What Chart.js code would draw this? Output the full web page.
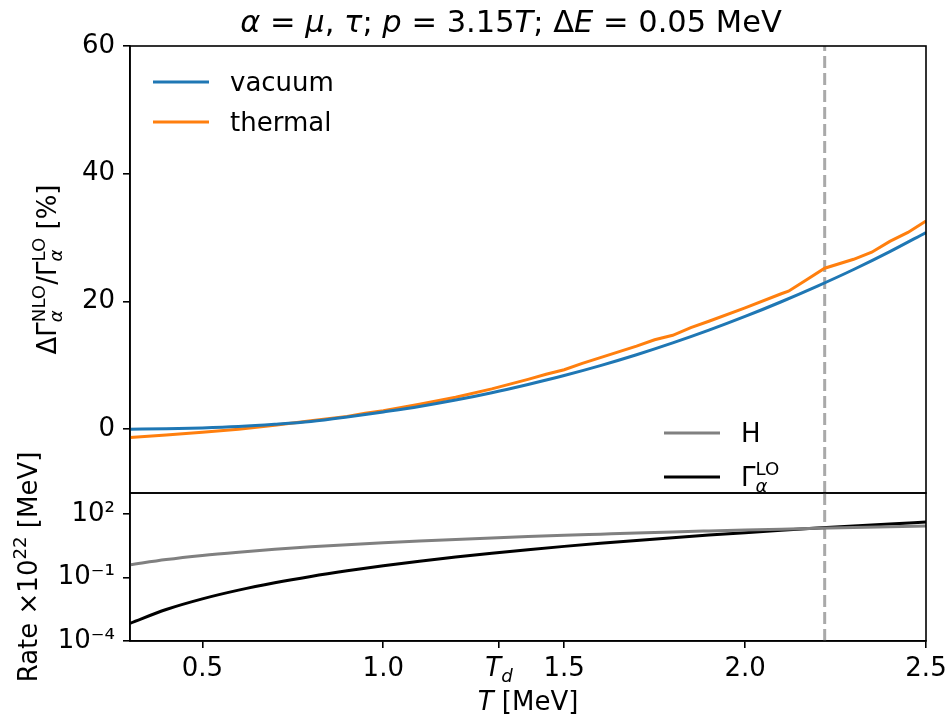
<!DOCTYPE html>
<html>
<head>
<meta charset="utf-8">
<script src="https://cdn.jsdelivr.net/npm/chart.js@4.4.1/dist/chart.umd.min.js"></script>
<style>
  body { margin: 0; background: #fff; }
  #page { position: relative; width: 952px; height: 724px; overflow: hidden; background: #fff; }
  canvas { position: absolute; left: 0; top: 0; }
</style>
</head>
<body>
<div id="page">
  <canvas id="ratioChart" width="952" height="724"></canvas>
  <canvas id="rateChart" width="952" height="724"></canvas>
</div>
<script>
// temperature grid [MeV]
const tempGrid = [0.3, 0.4, 0.5, 0.6, 0.7, 0.8, 0.9, 1.0, 1.1, 1.2, 1.3, 1.4, 1.5,
  1.6, 1.7, 1.8, 1.9, 2.0, 2.1, 2.2, 2.3, 2.4, 2.5];
// top panel: NLO correction in %
const vacuumPct = [0.0, 0.05, 0.18, 0.4, 0.75, 1.2, 1.9, 2.7, 3.55, 4.55, 5.7, 7.0, 8.4,
  9.95, 11.65, 13.5, 15.5, 17.65, 19.95, 22.4, 25.0, 27.8, 30.8];
const thermalT = [0.3, 0.4, 0.5, 0.6, 0.7, 0.8, 0.9, 0.95, 1.0, 1.1, 1.2, 1.3, 1.4, 1.45,
  1.5, 1.55, 1.6, 1.7, 1.75, 1.8, 1.85, 1.9, 2.0, 2.1, 2.12, 2.17, 2.22, 2.3, 2.35, 2.4, 2.45, 2.5];
const thermalPct = [-1.3, -0.9, -0.5, 0.0, 0.6, 1.3, 2.0, 2.5, 2.9, 3.9, 5.0, 6.3, 7.8, 8.6,
  9.3, 10.3, 11.2, 13.0, 14.0, 14.7, 15.9, 16.9, 19.0, 21.2, 21.6, 23.4, 25.2, 26.6, 27.7, 29.4, 30.8, 32.6];
// bottom panel: rates x 1e22 [MeV]
const hubbleRate = [0.399, 0.709, 1.11, 1.59, 2.17, 2.84, 3.59, 4.43, 5.36, 6.38, 7.49, 8.68, 9.97,
  11.3, 12.8, 14.4, 16.0, 17.7, 19.5, 21.4, 23.4, 25.5, 27.7];
const gammaLO = [0.00069, 0.00309, 0.00984, 0.0254, 0.0567, 0.1135, 0.209, 0.362, 0.594, 0.935, 1.42, 2.08, 2.99,
  4.17, 5.71, 7.71, 10.2, 13.3, 17.2, 21.9, 27.6, 34.4, 42.5];

const xTicks = [0.5, 1.0, 1.32, 1.5, 2.0, 2.5];
const xTickLabels = ["0.5", "1.0", "", "1.5", "2.0", "2.5"];
const ratioTicks = [0, 20, 40, 60];
const rateTicks = [1e-4, 1e-1, 1e2];
const rateTickLabels = ["10\u207B\u2074", "10\u207B\u00B9", "10\u00B2"];
const T_D = 1.32;
const T_MARK = 2.22;

const FONT = '"DejaVu Sans", sans-serif';
const FS = 26;
// panel edges on the page
const LEFT = 130, RIGHT = 926, TOP = 46, MID = 493, BOTTOM = 641;

function pts(xs, ys) {
  return xs.map((x, i) => ({ x: x, y: ys[i] }));
}

function fnt(size, it) {
  return (it ? "italic " : "") + size + "px " + FONT;
}

// parts: {t, it, sup, sub, subIt}
function richWidth(ctx, parts, size) {
  let w = 0;
  parts.forEach((p) => {
    ctx.font = fnt(size, p.it);
    w += ctx.measureText(p.t).width;
    let sw = 0;
    ctx.font = fnt(size * 0.7, false);
    if (p.sup) sw = Math.max(sw, ctx.measureText(p.sup).width);
    ctx.font = fnt(size * 0.7, p.subIt);
    if (p.sub) sw = Math.max(sw, ctx.measureText(p.sub).width);
    w += sw;
  });
  return w;
}

function drawRich(ctx, parts, x, y, size) {
  ctx.save();
  ctx.fillStyle = "#000";
  ctx.textBaseline = "alphabetic";
  ctx.textAlign = "left";
  let cx = x;
  parts.forEach((p) => {
    ctx.font = fnt(size, p.it);
    ctx.fillText(p.t, cx, y);
    cx += ctx.measureText(p.t).width;
    let sw = 0;
    if (p.sup) {
      ctx.font = fnt(size * 0.7, false);
      ctx.fillText(p.sup, cx, y - size * 0.42);
      sw = Math.max(sw, ctx.measureText(p.sup).width);
    }
    if (p.sub) {
      ctx.font = fnt(size * 0.7, p.subIt);
      ctx.fillText(p.sub, cx, y + size * 0.22);
      sw = Math.max(sw, ctx.measureText(p.sub).width);
    }
    cx += sw;
  });
  ctx.restore();
}

function drawRichCentered(ctx, parts, cx, y, size) {
  drawRich(ctx, parts, cx - richWidth(ctx, parts, size) / 2, y, size);
}

function drawRotated(ctx, parts, x, cy, size) {
  ctx.save();
  ctx.translate(x, cy);
  ctx.rotate(-Math.PI / 2);
  drawRichCentered(ctx, parts, 0, 0, size);
  ctx.restore();
}

function legendLine(ctx, x, y, color, label) {
  ctx.save();
  ctx.strokeStyle = color;
  ctx.lineWidth = 3;
  ctx.beginPath();
  ctx.moveTo(x, y);
  ctx.lineTo(x + 56, y);
  ctx.stroke();
  ctx.restore();
  drawRich(ctx, label, x + 77, y + 9, FS);
}

const framePlugin = {
  id: "frame",
  afterDraw(chart) {
    const a = chart.chartArea;
    const ctx = chart.ctx;
    ctx.save();
    ctx.strokeStyle = "#000";
    ctx.lineWidth = 1.6;
    ctx.strokeRect(a.left, a.top, a.right - a.left, a.bottom - a.top);
    ctx.restore();
  },
};

const ratioText = {
  id: "ratioText",
  afterDraw(chart) {
    const ctx = chart.ctx;
    const a = chart.chartArea;
    drawRichCentered(ctx, [
      { t: "\u03B1", it: true }, { t: " = " }, { t: "\u03BC", it: true }, { t: ", " },
      { t: "\u03C4", it: true }, { t: "; " }, { t: "p", it: true }, { t: " = 3.15" },
      { t: "T", it: true }, { t: "; \u0394" }, { t: "E", it: true }, { t: " = 0.05 MeV" },
    ], 511, 32, 30.5);
    drawRotated(ctx, [
      { t: "\u0394\u0393", sup: "NLO", sub: "\u03B1", subIt: true },
      { t: "/\u0393", sup: "LO", sub: "\u03B1", subIt: true },
      { t: " [%]" },
    ], 56, (a.top + a.bottom) / 2, FS);
    legendLine(ctx, 153, 82, "#1f77b4", [{ t: "vacuum" }]);
    legendLine(ctx, 153, 122, "#ff7f0e", [{ t: "thermal" }]);
    legendLine(ctx, 664, 433, "#808080", [{ t: "H" }]);
    legendLine(ctx, 664, 477, "#000000", [{ t: "\u0393", sup: "LO", sub: "\u03B1", subIt: true }]);
  },
};

const rateText = {
  id: "rateText",
  afterDraw(chart) {
    const ctx = chart.ctx;
    const a = chart.chartArea;
    const xs = chart.scales.x;
    drawRotated(ctx, [
      { t: "Rate \u00D710", sup: "22" }, { t: " [MeV]" },
    ], 37, (a.top + a.bottom) / 2, FS);
    // T_d tick label
    drawRichCentered(ctx, [{ t: "T", it: true, sub: "d", subIt: true }],
      xs.getPixelForValue(T_D), a.bottom + 35, FS);
    drawRichCentered(ctx, [{ t: "T", it: true }, { t: " [MeV]" }], (a.left + a.right) / 2, a.bottom + 69, FS);
  },
};

const axisFont = { family: FONT, size: FS };
const tickGrid = { drawOnChartArea: false, tickLength: 7, color: "#000", lineWidth: 1.6 };

function noPad(s) {
  s.paddingTop = 0; s.paddingBottom = 0; s.paddingLeft = 0; s.paddingRight = 0;
}

new Chart(document.getElementById("ratioChart"), {
  type: "line",
  data: {
    datasets: [
      { label: "vacuum", data: pts(tempGrid, vacuumPct), borderColor: "#1f77b4", borderWidth: 3, cubicInterpolationMode: "monotone" },
      { label: "thermal", data: pts(thermalT, thermalPct), borderColor: "#ff7f0e", borderWidth: 3, tension: 0 },
      { label: "T mark", data: [{ x: T_MARK, y: -10 }, { x: T_MARK, y: 60 }], borderColor: "#a9a9a9", borderWidth: 3, borderDash: [12, 5] },
    ],
  },
  options: {
    responsive: false,
    animation: false,
    events: [],
    layout: { padding: { top: TOP, left: 0, right: 952 - RIGHT, bottom: 724 - MID } },
    elements: { point: { radius: 0 } },
    plugins: { legend: { display: false }, tooltip: { enabled: false } },
    scales: {
      x: { type: "linear", min: 0.3, max: 2.5, display: false },
      y: {
        min: -10, max: 60,
        afterBuildTicks: (s) => { s.ticks = ratioTicks.map((v) => ({ value: v })); },
        afterFit: (s) => { s.width = LEFT; noPad(s); },
        ticks: { color: "#000", font: axisFont, padding: 8 },
        grid: tickGrid,
        border: { color: "#000", width: 1.6 },
      },
    },
  },
  plugins: [framePlugin, ratioText],
});

new Chart(document.getElementById("rateChart"), {
  type: "line",
  data: {
    datasets: [
      { label: "H", data: pts(tempGrid, hubbleRate), borderColor: "#808080", borderWidth: 3, cubicInterpolationMode: "monotone" },
      { label: "Gamma LO", data: pts(tempGrid, gammaLO), borderColor: "#000000", borderWidth: 3, cubicInterpolationMode: "monotone" },
      { label: "T mark", data: [{ x: T_MARK, y: 1e-4 }, { x: T_MARK, y: 1e3 }], borderColor: "#a9a9a9", borderWidth: 3, borderDash: [12, 5] },
    ],
  },
  options: {
    responsive: false,
    animation: false,
    events: [],
    layout: { padding: { top: MID, left: 0, right: 952 - RIGHT, bottom: 0 } },
    elements: { point: { radius: 0 } },
    plugins: { legend: { display: false }, tooltip: { enabled: false } },
    scales: {
      x: {
        type: "linear", min: 0.3, max: 2.5,
        afterBuildTicks: (s) => { s.ticks = xTicks.map((v) => ({ value: v })); },
        afterFit: (s) => { s.height = 724 - BOTTOM; noPad(s); },
        ticks: {
          color: "#000", font: axisFont, padding: 6, maxRotation: 0, autoSkip: false,
          callback: (v, i) => xTickLabels[i],
        },
        grid: tickGrid,
        border: { color: "#000", width: 1.6 },
      },
      y: {
        type: "logarithmic", min: 1e-4, max: 1e3,
        afterBuildTicks: (s) => { s.ticks = rateTicks.map((v) => ({ value: v })); },
        afterFit: (s) => { s.width = LEFT; noPad(s); },
        ticks: { color: "#000", font: axisFont, padding: 8, callback: (v, i) => rateTickLabels[i] },
        grid: tickGrid,
        border: { color: "#000", width: 1.6 },
      },
    },
  },
  plugins: [framePlugin, rateText],
});
</script>
</body>
</html>
